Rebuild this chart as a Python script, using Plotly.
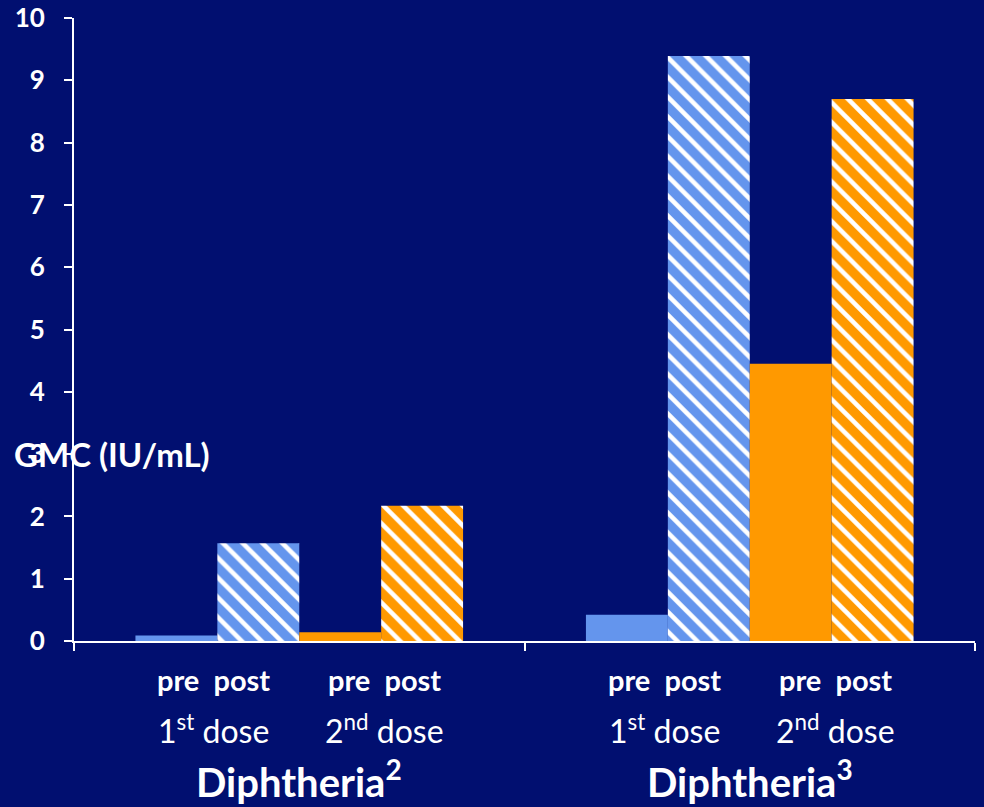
import plotly.graph_objects as go

# Antibody GMC before/after each dose, for two diphtheria studies
groups = ["Diphtheria<sup>2</sup>", "Diphtheria<sup>3</sup>"]
series_names = ["pre 1st dose", "post 1st dose", "pre 2nd dose", "post 2nd dose"]
pre_dose1 = [0.09, 0.42]
post_dose1 = [1.57, 9.39]
pre_dose2 = [0.14, 4.45]
post_dose2 = [2.17, 8.70]
dose_labels = ["1<sup>st</sup> dose", "2<sup>nd</sup> dose"]
y_ticks = [0, 1, 2, 3, 4, 5, 6, 7, 8, 9, 10]

BG = "#010F70"
BLUE = "#6495ED"
ORANGE = "#FF9900"
FONT = "Lato"

series_values = [pre_dose1, post_dose1, pre_dose2, post_dose2]
series_colors = [BLUE, BLUE, ORANGE, ORANGE]
series_hatched = [False, True, False, True]

fig = go.Figure()
for name, vals, col, hatched in zip(series_names, series_values, series_colors, series_hatched):
    marker = dict(color=col, line=dict(width=0))
    if hatched:
        marker["pattern"] = dict(shape="\\", fgcolor="white", bgcolor=col,
                                 size=14, solidity=0.33, fillmode="replace")
    fig.add_trace(go.Bar(name=name, x=groups, y=vals, marker=marker))

annotations = []
n_groups = len(groups)
for gi, g in enumerate(groups):
    center = (gi + 0.5) / n_groups
    annotations.append(dict(
        text="<b>" + g + "</b>", xref="paper", yref="paper",
        x=center, y=-0.221, xanchor="center", yanchor="middle",
        showarrow=False, font=dict(family=FONT, size=40, color="white")))
    for di, dl in enumerate(dose_labels):
        off = (-0.19 if di == 0 else 0.19) / n_groups
        annotations.append(dict(
            text=dl, xref="paper", yref="paper",
            x=center + off, y=-0.141, xanchor="center", yanchor="middle",
            showarrow=False, font=dict(family=FONT, size=32, color="white")))
        annotations.append(dict(
            text="<b>pre\u00a0 post</b>", xref="paper", yref="paper",
            x=center + off, y=-0.062, xanchor="center", yanchor="middle",
            showarrow=False, font=dict(family=FONT, size=29, color="white")))

annotations.append(dict(
    text="<b>GMC (IU/mL)</b>", xref="paper", yref="y",
    x=-0.069, y=3.0, xanchor="left", yanchor="middle",
    showarrow=False, font=dict(family=FONT, size=33, color="white")))

fig.update_layout(
    width=984, height=807,
    margin=dict(l=74, r=9, t=18, b=166),
    paper_bgcolor=BG, plot_bgcolor=BG,
    barmode="group", bargap=0.2727, bargroupgap=0,
    showlegend=False,
    annotations=annotations,
    font=dict(family=FONT, color="white"),
)
fig.update_xaxes(
    automargin=False,
    showline=True, linecolor="white", linewidth=2,
    ticks="outside", ticklen=8, tickwidth=2, tickcolor="white",
    tickson="boundaries", showticklabels=False, showgrid=False, zeroline=False,
)
fig.update_yaxes(
    automargin=False,
    range=[0, 10], tickvals=y_ticks,
    showline=True, linecolor="white", linewidth=2,
    ticks="outside", ticklen=8, tickwidth=2, tickcolor="white",
    ticklabelstandoff=14,
    tickfont=dict(family=FONT, size=26, color="white", weight="bold"),
    showgrid=False, zeroline=False,
)

fig.write_html("out.html")
